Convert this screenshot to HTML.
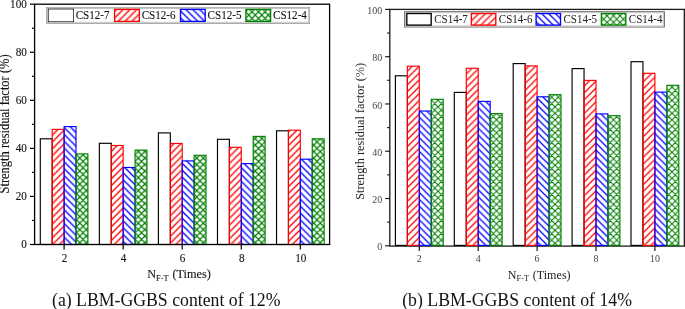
<!DOCTYPE html>
<html><head><meta charset="utf-8"><style>
html,body{margin:0;padding:0;background:#fff;width:685px;height:309px;overflow:hidden;}
svg{display:block;will-change:transform;font-family:"Liberation Serif",serif;}
.b{stroke:#111;stroke-width:0.1px;paint-order:stroke;}
</style></head><body>
<svg width="685" height="309" viewBox="0 0 685 309">
<defs>
<pattern id="prL" patternUnits="userSpaceOnUse" width="6.85" height="6.85" patternTransform="translate(2.50,0)"><path d="M-1.2,8.049999999999999 L8.049999999999999,-1.2 M-1.2,1.2 L1.2,-1.2 M5.6499999999999995,8.049999999999999 L8.049999999999999,5.6499999999999995" stroke="#f00" stroke-width="1.35"/></pattern>
<pattern id="pbL" patternUnits="userSpaceOnUse" width="6.85" height="6.85" patternTransform="translate(0,1.70)"><path d="M-1.2,-1.2 L8.049999999999999,8.049999999999999 M5.6499999999999995,-1.2 L8.049999999999999,1.2 M-1.2,5.6499999999999995 L1.2,8.049999999999999" stroke="#00f" stroke-width="1.35"/></pattern>
<pattern id="pgL" patternUnits="userSpaceOnUse" width="6.5" height="6.5" patternTransform="translate(1.78,2.08)"><path d="M-1.2,7.7 L7.7,-1.2 M-1.2,1.2 L1.2,-1.2 M5.3,7.7 L7.7,5.3 M-1.2,-1.2 L7.7,7.7 M5.3,-1.2 L7.7,1.2 M-1.2,5.3 L1.2,7.7" stroke="#008000" stroke-width="1.2"/></pattern>
<pattern id="prR" patternUnits="userSpaceOnUse" width="6.85" height="6.85" patternTransform="translate(5.90,0)"><path d="M-1.2,8.049999999999999 L8.049999999999999,-1.2 M-1.2,1.2 L1.2,-1.2 M5.6499999999999995,8.049999999999999 L8.049999999999999,5.6499999999999995" stroke="#f00" stroke-width="1.25"/></pattern>
<pattern id="pbR" patternUnits="userSpaceOnUse" width="6.85" height="6.85" patternTransform="translate(0,6.10)"><path d="M-1.2,-1.2 L8.049999999999999,8.049999999999999 M5.6499999999999995,-1.2 L8.049999999999999,1.2 M-1.2,5.6499999999999995 L1.2,8.049999999999999" stroke="#00f" stroke-width="1.25"/></pattern>
<pattern id="pgR" patternUnits="userSpaceOnUse" width="6.5" height="6.5" patternTransform="translate(2.50,2.80)"><path d="M-1.2,7.7 L7.7,-1.2 M-1.2,1.2 L1.2,-1.2 M5.3,7.7 L7.7,5.3 M-1.2,-1.2 L7.7,7.7 M5.3,-1.2 L7.7,1.2 M-1.2,5.3 L1.2,7.7" stroke="#008000" stroke-width="1.05"/></pattern>
</defs>
<rect width="685" height="309" fill="#fff"/>
<rect x="40.30" y="138.80" width="11.90" height="105.70" fill="#fff" stroke="#000" stroke-width="1.15"/>
<rect x="52.20" y="129.40" width="11.90" height="115.10" fill="url(#prL)" stroke="#f00" stroke-width="1.15"/>
<rect x="64.10" y="126.60" width="11.90" height="117.90" fill="url(#pbL)" stroke="#00f" stroke-width="1.15"/>
<rect x="76.00" y="153.90" width="11.90" height="90.60" fill="url(#pgL)" stroke="#008000" stroke-width="1.15"/>
<rect x="99.36" y="143.30" width="11.90" height="101.20" fill="#fff" stroke="#000" stroke-width="1.15"/>
<rect x="111.26" y="145.50" width="11.90" height="99.00" fill="url(#prL)" stroke="#f00" stroke-width="1.15"/>
<rect x="123.16" y="167.50" width="11.90" height="77.00" fill="url(#pbL)" stroke="#00f" stroke-width="1.15"/>
<rect x="135.06" y="150.10" width="11.90" height="94.40" fill="url(#pgL)" stroke="#008000" stroke-width="1.15"/>
<rect x="158.42" y="132.90" width="11.90" height="111.60" fill="#fff" stroke="#000" stroke-width="1.15"/>
<rect x="170.32" y="143.50" width="11.90" height="101.00" fill="url(#prL)" stroke="#f00" stroke-width="1.15"/>
<rect x="182.22" y="160.90" width="11.90" height="83.60" fill="url(#pbL)" stroke="#00f" stroke-width="1.15"/>
<rect x="194.12" y="155.30" width="11.90" height="89.20" fill="url(#pgL)" stroke="#008000" stroke-width="1.15"/>
<rect x="217.48" y="139.30" width="11.90" height="105.20" fill="#fff" stroke="#000" stroke-width="1.15"/>
<rect x="229.38" y="147.30" width="11.90" height="97.20" fill="url(#prL)" stroke="#f00" stroke-width="1.15"/>
<rect x="241.28" y="163.60" width="11.90" height="80.90" fill="url(#pbL)" stroke="#00f" stroke-width="1.15"/>
<rect x="253.18" y="136.40" width="11.90" height="108.10" fill="url(#pgL)" stroke="#008000" stroke-width="1.15"/>
<rect x="276.54" y="130.80" width="11.90" height="113.70" fill="#fff" stroke="#000" stroke-width="1.15"/>
<rect x="288.44" y="130.20" width="11.90" height="114.30" fill="url(#prL)" stroke="#f00" stroke-width="1.15"/>
<rect x="300.34" y="159.20" width="11.90" height="85.30" fill="url(#pbL)" stroke="#00f" stroke-width="1.15"/>
<rect x="312.24" y="138.80" width="11.90" height="105.70" fill="url(#pgL)" stroke="#008000" stroke-width="1.15"/>
<rect x="34.60" y="4.20" width="295.00" height="240.30" fill="none" stroke="#000" stroke-width="1.3"/>
<line x1="30.00" y1="244.50" x2="34.60" y2="244.50" stroke="#000" stroke-width="1.2"/>
<line x1="32.00" y1="220.47" x2="34.60" y2="220.47" stroke="#000" stroke-width="1.2"/>
<line x1="30.00" y1="196.44" x2="34.60" y2="196.44" stroke="#000" stroke-width="1.2"/>
<line x1="32.00" y1="172.41" x2="34.60" y2="172.41" stroke="#000" stroke-width="1.2"/>
<line x1="30.00" y1="148.38" x2="34.60" y2="148.38" stroke="#000" stroke-width="1.2"/>
<line x1="32.00" y1="124.35" x2="34.60" y2="124.35" stroke="#000" stroke-width="1.2"/>
<line x1="30.00" y1="100.32" x2="34.60" y2="100.32" stroke="#000" stroke-width="1.2"/>
<line x1="32.00" y1="76.29" x2="34.60" y2="76.29" stroke="#000" stroke-width="1.2"/>
<line x1="30.00" y1="52.26" x2="34.60" y2="52.26" stroke="#000" stroke-width="1.2"/>
<line x1="32.00" y1="28.23" x2="34.60" y2="28.23" stroke="#000" stroke-width="1.2"/>
<line x1="30.00" y1="4.20" x2="34.60" y2="4.20" stroke="#000" stroke-width="1.2"/>
<line x1="64.10" y1="244.50" x2="64.10" y2="249.50" stroke="#000" stroke-width="1.2"/>
<line x1="123.16" y1="244.50" x2="123.16" y2="249.50" stroke="#000" stroke-width="1.2"/>
<line x1="182.22" y1="244.50" x2="182.22" y2="249.50" stroke="#000" stroke-width="1.2"/>
<line x1="241.28" y1="244.50" x2="241.28" y2="249.50" stroke="#000" stroke-width="1.2"/>
<line x1="300.34" y1="244.50" x2="300.34" y2="249.50" stroke="#000" stroke-width="1.2"/>
<rect x="389.80" y="9.40" width="294.50" height="236.70" fill="none" stroke="#1a1a1a" stroke-width="1.3"/>
<rect x="395.40" y="75.80" width="11.95" height="169.60" fill="#fff" stroke="#000" stroke-width="1.15"/>
<rect x="407.35" y="66.20" width="11.95" height="179.20" fill="url(#prR)" stroke="#f00" stroke-width="1.15"/>
<rect x="419.30" y="111.00" width="11.95" height="134.40" fill="url(#pbR)" stroke="#00f" stroke-width="1.15"/>
<rect x="431.25" y="99.30" width="11.95" height="146.10" fill="url(#pgR)" stroke="#008000" stroke-width="1.15"/>
<rect x="454.30" y="92.40" width="11.95" height="153.00" fill="#fff" stroke="#000" stroke-width="1.15"/>
<rect x="466.25" y="68.30" width="11.95" height="177.10" fill="url(#prR)" stroke="#f00" stroke-width="1.15"/>
<rect x="478.20" y="101.40" width="11.95" height="144.00" fill="url(#pbR)" stroke="#00f" stroke-width="1.15"/>
<rect x="490.15" y="113.60" width="11.95" height="131.80" fill="url(#pgR)" stroke="#008000" stroke-width="1.15"/>
<rect x="513.20" y="63.60" width="11.95" height="181.80" fill="#fff" stroke="#000" stroke-width="1.15"/>
<rect x="525.15" y="65.90" width="11.95" height="179.50" fill="url(#prR)" stroke="#f00" stroke-width="1.15"/>
<rect x="537.10" y="96.80" width="11.95" height="148.60" fill="url(#pbR)" stroke="#00f" stroke-width="1.15"/>
<rect x="549.05" y="94.70" width="11.95" height="150.70" fill="url(#pgR)" stroke="#008000" stroke-width="1.15"/>
<rect x="572.10" y="68.60" width="11.95" height="176.80" fill="#fff" stroke="#000" stroke-width="1.15"/>
<rect x="584.05" y="80.40" width="11.95" height="165.00" fill="url(#prR)" stroke="#f00" stroke-width="1.15"/>
<rect x="596.00" y="113.90" width="11.95" height="131.50" fill="url(#pbR)" stroke="#00f" stroke-width="1.15"/>
<rect x="607.95" y="115.70" width="11.95" height="129.70" fill="url(#pgR)" stroke="#008000" stroke-width="1.15"/>
<rect x="631.00" y="61.70" width="11.95" height="183.70" fill="#fff" stroke="#000" stroke-width="1.15"/>
<rect x="642.95" y="73.30" width="11.95" height="172.10" fill="url(#prR)" stroke="#f00" stroke-width="1.15"/>
<rect x="654.90" y="92.10" width="11.95" height="153.30" fill="url(#pbR)" stroke="#00f" stroke-width="1.15"/>
<rect x="666.85" y="85.30" width="11.95" height="160.10" fill="url(#pgR)" stroke="#008000" stroke-width="1.15"/>
<line x1="385.20" y1="245.80" x2="389.80" y2="245.80" stroke="#1a1a1a" stroke-width="1.2"/>
<line x1="387.20" y1="222.16" x2="389.80" y2="222.16" stroke="#1a1a1a" stroke-width="1.2"/>
<line x1="385.20" y1="198.52" x2="389.80" y2="198.52" stroke="#1a1a1a" stroke-width="1.2"/>
<line x1="387.20" y1="174.88" x2="389.80" y2="174.88" stroke="#1a1a1a" stroke-width="1.2"/>
<line x1="385.20" y1="151.24" x2="389.80" y2="151.24" stroke="#1a1a1a" stroke-width="1.2"/>
<line x1="387.20" y1="127.60" x2="389.80" y2="127.60" stroke="#1a1a1a" stroke-width="1.2"/>
<line x1="385.20" y1="103.96" x2="389.80" y2="103.96" stroke="#1a1a1a" stroke-width="1.2"/>
<line x1="387.20" y1="80.32" x2="389.80" y2="80.32" stroke="#1a1a1a" stroke-width="1.2"/>
<line x1="385.20" y1="56.68" x2="389.80" y2="56.68" stroke="#1a1a1a" stroke-width="1.2"/>
<line x1="387.20" y1="33.04" x2="389.80" y2="33.04" stroke="#1a1a1a" stroke-width="1.2"/>
<line x1="385.20" y1="9.40" x2="389.80" y2="9.40" stroke="#1a1a1a" stroke-width="1.2"/>
<line x1="419.30" y1="246.10" x2="419.30" y2="251.10" stroke="#1a1a1a" stroke-width="1.2"/>
<line x1="478.20" y1="246.10" x2="478.20" y2="251.10" stroke="#1a1a1a" stroke-width="1.2"/>
<line x1="537.10" y1="246.10" x2="537.10" y2="251.10" stroke="#1a1a1a" stroke-width="1.2"/>
<line x1="596.00" y1="246.10" x2="596.00" y2="251.10" stroke="#1a1a1a" stroke-width="1.2"/>
<line x1="654.90" y1="246.10" x2="654.90" y2="251.10" stroke="#1a1a1a" stroke-width="1.2"/>
<g class="b"><text transform="translate(26.90,248.28) scale(1,1.15)" text-anchor="end" font-size="11.2" fill="#111">0</text>
<text transform="translate(26.90,200.22) scale(1,1.15)" text-anchor="end" font-size="11.2" fill="#111">20</text>
<text transform="translate(26.90,152.16) scale(1,1.15)" text-anchor="end" font-size="11.2" fill="#111">40</text>
<text transform="translate(26.90,104.10) scale(1,1.15)" text-anchor="end" font-size="11.2" fill="#111">60</text>
<text transform="translate(26.90,56.04) scale(1,1.15)" text-anchor="end" font-size="11.2" fill="#111">80</text>
<text transform="translate(26.90,7.98) scale(1,1.15)" text-anchor="end" font-size="11.2" fill="#111">100</text>
<text transform="translate(64.50,261.90) scale(1,1.15)" text-anchor="middle" font-size="11.2" fill="#111">2</text>
<text transform="translate(123.56,261.90) scale(1,1.15)" text-anchor="middle" font-size="11.2" fill="#111">4</text>
<text transform="translate(182.62,261.90) scale(1,1.15)" text-anchor="middle" font-size="11.2" fill="#111">6</text>
<text transform="translate(241.68,261.90) scale(1,1.15)" text-anchor="middle" font-size="11.2" fill="#111">8</text>
<text transform="translate(300.74,261.90) scale(1,1.15)" text-anchor="middle" font-size="11.2" fill="#111">10</text></g>
<text transform="translate(382.20,250.37) scale(1,1.08)" text-anchor="end" font-size="10" fill="#444">0</text>
<text transform="translate(382.20,203.09) scale(1,1.08)" text-anchor="end" font-size="10" fill="#444">20</text>
<text transform="translate(382.20,155.81) scale(1,1.08)" text-anchor="end" font-size="10" fill="#444">40</text>
<text transform="translate(382.20,108.53) scale(1,1.08)" text-anchor="end" font-size="10" fill="#444">60</text>
<text transform="translate(382.20,61.25) scale(1,1.08)" text-anchor="end" font-size="10" fill="#444">80</text>
<text transform="translate(382.20,13.97) scale(1,1.08)" text-anchor="end" font-size="10" fill="#444">100</text>
<text transform="translate(419.30,262.00) scale(1,1.08)" text-anchor="middle" font-size="10" fill="#444">2</text>
<text transform="translate(478.20,262.00) scale(1,1.08)" text-anchor="middle" font-size="10" fill="#444">4</text>
<text transform="translate(537.10,262.00) scale(1,1.08)" text-anchor="middle" font-size="10" fill="#444">6</text>
<text transform="translate(596.00,262.00) scale(1,1.08)" text-anchor="middle" font-size="10" fill="#444">8</text>
<text transform="translate(654.90,262.00) scale(1,1.08)" text-anchor="middle" font-size="10" fill="#444">10</text>
<g class="b"><rect x="46.6" y="7.5" width="262.9" height="15.8" fill="#fff" stroke="#6a6a6a" stroke-width="1"/>
<rect x="47.6" y="8.5" width="260.9" height="13.8" fill="none" stroke="#c4c4c4" stroke-width="1"/>
<rect x="48.60" y="9.40" width="24.70" height="12.00" fill="#fff" stroke="#000" stroke-width="1.35"/>
<text transform="translate(75.70,19.14) scale(1,1.15)" font-size="11.1" fill="#111">CS12-7</text>
<rect x="114.60" y="9.40" width="24.70" height="12.00" fill="url(#prL)" stroke="#f00" stroke-width="1.35"/>
<text transform="translate(141.70,19.14) scale(1,1.15)" font-size="11.1" fill="#111">CS12-6</text>
<rect x="180.50" y="9.40" width="24.70" height="12.00" fill="url(#pbL)" stroke="#00f" stroke-width="1.35"/>
<text transform="translate(207.60,19.14) scale(1,1.15)" font-size="11.1" fill="#111">CS12-5</text>
<rect x="245.90" y="9.40" width="24.70" height="12.00" fill="url(#pgL)" stroke="#008000" stroke-width="1.35"/>
<text transform="translate(273.00,19.14) scale(1,1.15)" font-size="11.1" fill="#111">CS12-4</text></g>
<rect x="404.6" y="11.7" width="259.79999999999995" height="15.3" fill="#fff" stroke="#6a6a6a" stroke-width="1"/>
<rect x="405.6" y="12.7" width="257.79999999999995" height="13.3" fill="none" stroke="#c4c4c4" stroke-width="1"/>
<rect x="406.80" y="13.50" width="24.40" height="11.60" fill="#fff" stroke="#000" stroke-width="1.35"/>
<text transform="translate(434.20,22.50) scale(1,1.15)" font-size="11" fill="#222">CS14-7</text>
<rect x="471.40" y="13.50" width="24.40" height="11.60" fill="url(#prR)" stroke="#f00" stroke-width="1.35"/>
<text transform="translate(498.80,22.50) scale(1,1.15)" font-size="11" fill="#222">CS14-6</text>
<rect x="536.10" y="13.50" width="24.40" height="11.60" fill="url(#pbR)" stroke="#00f" stroke-width="1.35"/>
<text transform="translate(563.50,22.50) scale(1,1.15)" font-size="11" fill="#222">CS14-5</text>
<rect x="601.40" y="13.50" width="24.40" height="11.60" fill="url(#pgR)" stroke="#008000" stroke-width="1.35"/>
<text transform="translate(628.80,22.50) scale(1,1.15)" font-size="11" fill="#222">CS14-4</text>
<g class="b"><text transform="translate(9.40,123.95) rotate(-90) scale(1,1.15)" text-anchor="middle" font-size="12.5" fill="#111">Strength residual factor (%)</text>
<text transform="translate(147.2,278.35) scale(1,1.08)" font-size="12.3" fill="#111">N<tspan font-size="8.3" dy="2.2">F-T</tspan><tspan dy="-2.2" dx="0.8"> (Times)</tspan></text></g>
<text transform="translate(364.20,131.35) rotate(-90) scale(1,1.05)" text-anchor="middle" font-size="12.3" fill="#222">Strength residual factor (%)</text>
<text transform="translate(507.8,278.9) scale(1,1.08)" font-size="12.1" fill="#222">N<tspan font-size="8.3" dy="2.2">F-T</tspan><tspan dy="-2.2" dx="0.8"> (Times)</tspan></text>
<text x="52" y="305.5" font-size="17.9" fill="#111" textLength="228.5" lengthAdjust="spacingAndGlyphs">(a) LBM-GGBS content of 12%</text>
<text x="402.2" y="305.5" font-size="17.9" fill="#111" textLength="229.8" lengthAdjust="spacingAndGlyphs">(b) LBM-GGBS content of 14%</text>
</svg>
</body></html>
